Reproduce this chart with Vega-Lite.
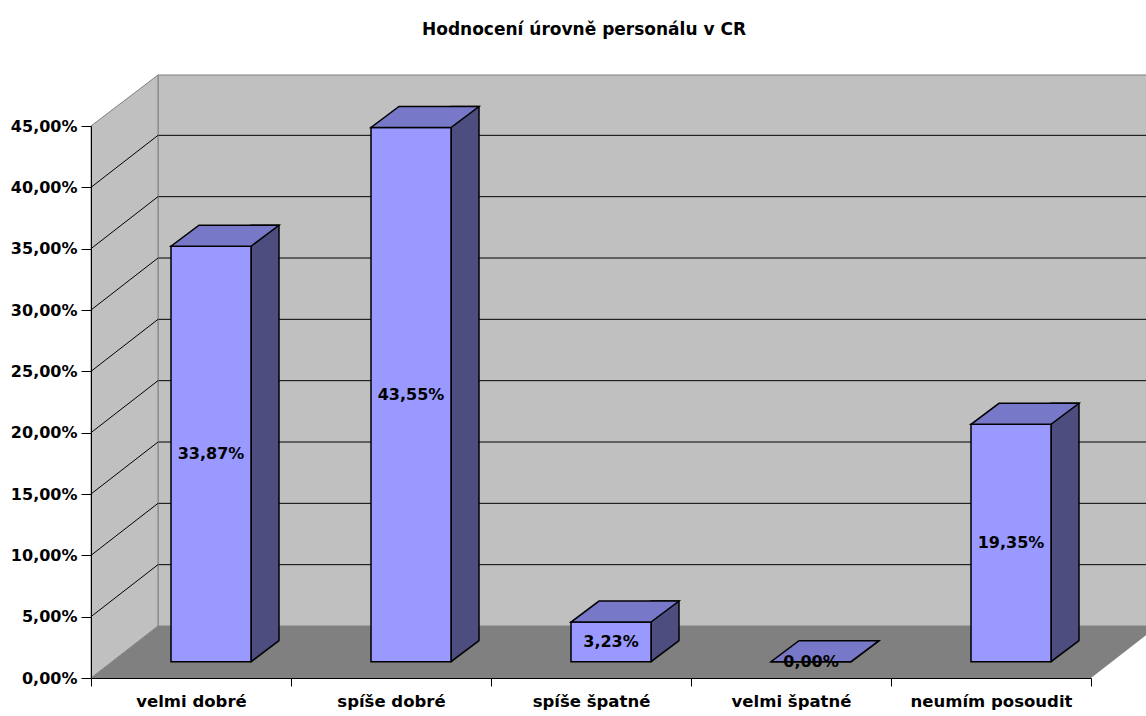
{
  "$schema": "https://vega.github.io/schema/vega-lite/v6.json",
  "width": 1000,
  "height": 552,
  "autosize": {"type": "none"},
  "padding": {"left": 91, "top": 126, "right": 55, "bottom": 38},
  "background": "#ffffff",
  "title": {
    "text": "Hodnocení úrovně personálu v CR",
    "font": "DejaVu Sans",
    "fontSize": 17,
    "fontWeight": "bold",
    "color": "#000000",
    "anchor": "middle",
    "dx": -7,
    "offset": 34
  },
  "config": {
    "view": {"stroke": null},
    "font": "DejaVu Sans",
    "locale": {"number": {"decimal": ",", "thousands": " ", "grouping": [3], "currency": ["", " Kč"]}}
  },
  "datasets": {
    "hodnoceni": [
      {"kategorie": "velmi dobré", "podil": 0.3387},
      {"kategorie": "spíše dobré", "podil": 0.4355},
      {"kategorie": "spíše špatné", "podil": 0.0323},
      {"kategorie": "velmi špatné", "podil": 0.0},
      {"kategorie": "neumím posoudit", "podil": 0.1935}
    ],
    "mrizka": [
      {"hodnota": 0.05}, {"hodnota": 0.10}, {"hodnota": 0.15}, {"hodnota": 0.20},
      {"hodnota": 0.25}, {"hodnota": 0.30}, {"hodnota": 0.35}, {"hodnota": 0.40}
    ]
  },
  "layer": [
    {
      "layer": [
        {
          "data": {"values": [{"prvek": "zadní stěna"}]},
          "mark": {"type": "point", "shape": "M-33,-52 L1060,-52 L1060,-603 L-33,-603 Z", "size": 4, "filled": true, "fill": "#C0C0C0", "stroke": "#808080", "strokeWidth": 1, "opacity": 1},
          "encoding": {
            "x": {"datum": "velmi dobré", "type": "nominal"},
            "y": {"datum": 0, "type": "quantitative", "scale": {"domain": [0, 0.45], "nice": false, "zero": true}}
          }
        },
        {
          "data": {"name": "mrizka"},
          "mark": {"type": "rule", "color": "#000000", "strokeWidth": 1, "xOffset": -33, "x2Offset": 260, "yOffset": -52},
          "encoding": {
            "x": {"datum": "velmi dobré", "type": "nominal"},
            "x2": {"datum": "neumím posoudit"},
            "y": {"field": "hodnota", "type": "quantitative", "scale": {"domain": [0, 0.45], "nice": false, "zero": true}}
          }
        },
        {
          "data": {"values": [{"prvek": "boční stěna"}]},
          "mark": {"type": "point", "shape": "M-100,0 L-100,-552 L-33,-603 L-33,-52 Z", "size": 4, "filled": true, "fill": "#C0C0C0", "stroke": "#808080", "strokeWidth": 1, "opacity": 1},
          "encoding": {
            "x": {"datum": "velmi dobré", "type": "nominal"},
            "y": {"datum": 0, "type": "quantitative"}
          }
        },
        {
          "data": {"name": "mrizka"},
          "mark": {"type": "rule", "color": "#000000", "strokeWidth": 1, "xOffset": -100, "x2Offset": -33, "y2Offset": -52},
          "encoding": {
            "x": {"datum": "velmi dobré", "type": "nominal"},
            "x2": {"datum": "velmi dobré"},
            "y": {"field": "hodnota", "type": "quantitative"},
            "y2": {"field": "hodnota"}
          }
        },
        {
          "data": {"values": [{"prvek": "podlaha"}]},
          "mark": {"type": "point", "shape": "M-100,0 L900,0 L967,-52 L-33,-52 Z", "size": 4, "filled": true, "fill": "#808080", "strokeWidth": 0, "opacity": 1},
          "encoding": {
            "x": {"datum": "velmi dobré", "type": "nominal"},
            "y": {"datum": 0, "type": "quantitative"}
          }
        },
        {
          "data": {"name": "hodnoceni"},
          "mark": {"type": "bar", "width": 28, "xOffset": 74, "yOffset": -37.3, "y2Offset": -16.3, "fill": "#4D4D80", "stroke": "#000000", "strokeWidth": 1.5, "opacity": 1},
          "encoding": {
            "x": {"field": "kategorie", "type": "nominal"},
            "y": {"field": "podil", "type": "quantitative"},
            "y2": {"datum": 0}
          }
        },
        {
          "data": {"name": "hodnoceni"},
          "mark": {"type": "point", "shape": "M58,2.5 L90,-22 L90,2.5 Z", "size": 4, "filled": true, "fill": "#808080", "strokeWidth": 0, "opacity": 1, "yOffset": -16.3},
          "encoding": {
            "x": {"field": "kategorie", "type": "nominal"},
            "y": {"datum": 0, "type": "quantitative"}
          }
        },
        {
          "data": {"name": "hodnoceni"},
          "mark": {"type": "point", "shape": "M60,0 L88,-21", "size": 4, "filled": false, "stroke": "#000000", "strokeWidth": 1.5, "opacity": 1, "yOffset": -16.3},
          "encoding": {
            "x": {"field": "kategorie", "type": "nominal"},
            "y": {"datum": 0, "type": "quantitative"}
          }
        },
        {
          "data": {"name": "hodnoceni"},
          "mark": {"type": "bar", "width": 80, "xOffset": 20, "yOffset": -16.3, "y2Offset": -16.3, "fill": "#9999FF", "stroke": "#000000", "strokeWidth": 1.5, "opacity": 1},
          "encoding": {
            "x": {
              "field": "kategorie",
              "type": "nominal",
              "sort": null,
              "scale": {"domain": ["velmi dobré", "spíše dobré", "spíše špatné", "velmi špatné", "neumím posoudit"], "paddingInner": 0, "paddingOuter": 0},
              "axis": {
                "title": null, "labelAngle": 0, "labelAlign": "center", "labelBaseline": "top", "tickBand": "extent", "tickSize": 8, "tickColor": "#000000", "tickWidth": 1,
                "domainColor": "#000000", "domainWidth": 1, "labelFont": "DejaVu Sans", "labelFontWeight": "bold",
                "labelFontSize": 16.5, "labelColor": "#000000", "labelPadding": 7, "zindex": 1, "grid": false
              }
            },
            "y": {
              "field": "podil",
              "type": "quantitative",
              "scale": {"domain": [0, 0.45], "nice": false, "zero": true},
              "axis": {
                "title": null, "values": [0, 0.05, 0.1, 0.15, 0.2, 0.25, 0.3, 0.35, 0.4, 0.45], "format": ".2%",
                "tickSize": 10, "tickColor": "#000000", "tickWidth": 1, "domainColor": "#000000", "domainWidth": 1,
                "labelFont": "DejaVu Sans", "labelFontWeight": "bold", "labelFontSize": 16, "labelColor": "#000000",
                "labelPadding": 4, "zindex": 1, "grid": false
              }
            },
            "y2": {"datum": 0}
          }
        },
        {
          "data": {"name": "hodnoceni"},
          "mark": {"type": "point", "shape": "M-20,0 L60,0 L88,-21 L8,-21 Z", "size": 4, "filled": true, "fill": "#7878C8", "stroke": "#000000", "strokeWidth": 1.5, "opacity": 1, "yOffset": -16.3},
          "encoding": {
            "x": {"field": "kategorie", "type": "nominal"},
            "y": {"field": "podil", "type": "quantitative"}
          }
        }
      ]
    },
    {
      "data": {"name": "hodnoceni"},
      "mark": {"type": "text", "font": "DejaVu Sans", "fontWeight": "bold", "fontSize": 16, "color": "#000000", "align": "center", "baseline": "middle", "xOffset": 20, "yOffset": -16.3},
      "encoding": {
        "x": {"field": "kategorie", "type": "nominal"},
        "y": {"field": "podil", "type": "quantitative", "scale": {"domain": [0, 0.9], "nice": false, "zero": true}, "axis": null},
        "text": {"field": "podil", "type": "quantitative", "format": ".2%"}
      }
    }
  ],
  "resolve": {"scale": {"y": "independent"}}
}
